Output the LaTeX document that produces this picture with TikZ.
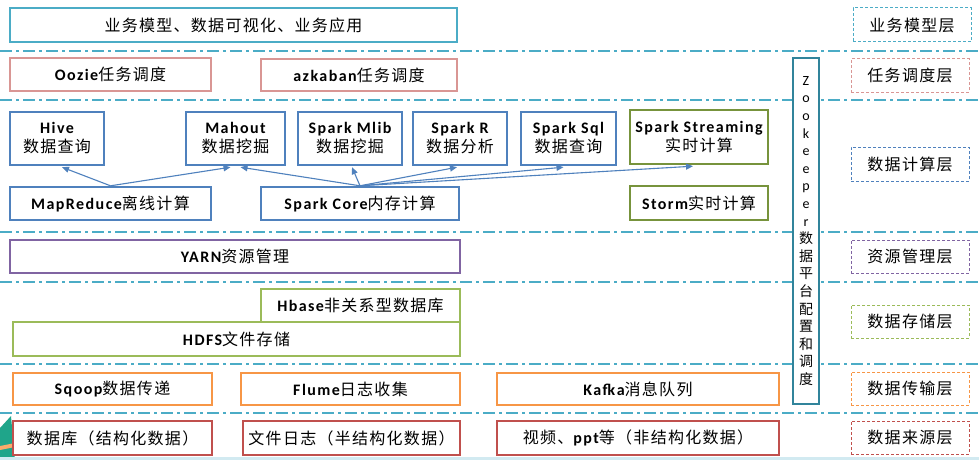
\documentclass[tikz,border=0pt]{standalone}
\usepackage{fontspec}
\setmainfont{Noto Sans CJK SC}[LetterSpace=8]
\newfontfamily\lat{Carlito}[LetterSpace=9]
\newfontfamily\latr{Carlito}
\newcommand\lt[1]{{\lat\bfseries #1}}
\usetikzlibrary{arrows.meta,calc}
\definecolor{cyanc}{HTML}{4BACC6}
\definecolor{pinkc}{HTML}{D99694}
\definecolor{bluec}{HTML}{4F81BD}
\definecolor{olivec}{HTML}{77933C}
\definecolor{greenc}{HTML}{9BBB59}
\definecolor{purplec}{HTML}{8064A2}
\definecolor{orangec}{HTML}{F79646}
\definecolor{redc}{HTML}{C0504D}
\definecolor{zkc}{HTML}{31849B}
\definecolor{tealbg}{HTML}{1FA58A}
\tikzset{
  box/.style={draw, line width=2.4pt, fill=white, inner sep=0pt, align=center,
    font=\fontsize{16}{19}\selectfont},
  layerbox/.style={draw, line width=1pt, dash pattern=on 3pt off 2pt, inner sep=0pt,
    minimum width=118pt, minimum height=33pt, font=\fontsize{16}{18}\selectfont},
  sepline/.style={line width=1.3pt, draw=cyanc, dash pattern=on 12pt off 4pt on 3pt off 4pt},
  arr/.style={draw=bluec, line width=1.1pt, -{Triangle[length=7pt,width=6pt]}}
}
\begin{document}
\begin{tikzpicture}[x=1pt,y=-1pt]
\path[use as bounding box, fill=white] (0,0) rectangle (979,460);
% background decoration bottom-left
\fill[tealbg] (0,428) -- (11,416) -- (15,460) -- (0,460) -- cycle;
\fill[orangec!80] (0,446) -- (15,443) -- (15,447) -- (0,450) -- cycle;
\fill[cyanc!25] (0,457) rectangle (979,460);
% separator lines
\foreach \yy/\nm in {51/a,100/b,232/c,282/d,364/e,413/f}{
  \coordinate (L\nm) at (0,\yy);
  \coordinate (R\nm) at (979,\yy);
  \draw[sepline] (L\nm) -- (R\nm);
}
% business layer
\node[box, draw=cyanc, minimum width=447pt, minimum height=34pt] (top) at (233.5,25) {业务模型、数据可视化、业务应用};
% scheduling
\node[box, draw=pinkc, minimum width=201pt, minimum height=33pt] (oozie) at (110.5,74.5) {\lt{Oozie}任务调度};
\node[box, draw=pinkc, minimum width=196pt, minimum height=32pt] (azk) at (359,75) {\lt{azkaban}任务调度};
% computing
\node[box, draw=bluec, minimum width=94pt, minimum height=53pt] (hive) at (57,138.5) {\lt{Hive}\\数据查询};
\node[box, draw=bluec, minimum width=99pt, minimum height=53pt] (mahout) at (235.5,138.5) {\lt{Mahout}\\数据挖掘};
\node[box, draw=bluec, minimum width=104pt, minimum height=53pt] (mlib) at (350,138.5) {\lt{Spark Mlib}\\数据挖掘};
\node[box, draw=bluec, minimum width=94pt, minimum height=53pt] (sparkr) at (460,138.5) {\lt{Spark R}\\数据分析};
\node[box, draw=bluec, minimum width=95pt, minimum height=53pt] (sql) at (568.5,138.5) {\lt{Spark Sql}\\数据查询};
\node[box, draw=olivec, minimum width=138pt, minimum height=54pt] (stream) at (699,137) {\lt{Spark Streaming}\\实时计算};
\node[box, draw=bluec, minimum width=201pt, minimum height=33pt] (mr) at (110.5,203.5) {\lt{MapReduce}离线计算};
\node[box, draw=bluec, minimum width=198pt, minimum height=33pt] (core) at (360,203.5) {\lt{Spark Core}内存计算};
\node[box, draw=olivec, minimum width=138pt, minimum height=34pt] (storm) at (699,203) {\lt{Storm}实时计算};
% arrows
\draw[arr] (mr.north) -- ($(hive.south)+(5,1)$);
\draw[arr] (mr.north) -- ($(mahout.south)+(-5,1)$);
\draw[arr] (core.north) -- ($(mahout.south)+(5,1)$);
\draw[arr] (core.north) -- ($(mlib.south)+(2,1)$);
\draw[arr] (core.north) -- ($(sparkr.south)+(-3,1)$);
\draw[arr] (core.north) -- ($(sql.south)+(-5,1)$);
\draw[arr] (core.north) -- ($(stream.south)+(-6,1)$);
% resource
\node[box, draw=purplec, minimum width=450pt, minimum height=33pt] (yarn) at (235,256.5) {\lt{YARN}资源管理};
% storage
\node[box, draw=greenc, minimum width=199pt, minimum height=33pt] (hbase) at (360.5,305.5) {\lt{Hbase}非关系型数据库};
\node[box, draw=greenc, minimum width=447pt, minimum height=34pt] (hdfs) at (236.5,339) {\lt{HDFS}文件存储};
% transport
\node[box, draw=orangec, minimum width=199pt, minimum height=32pt] (sqoop) at (112.5,389) {\lt{Sqoop}数据传递};
\node[box, draw=orangec, minimum width=219pt, minimum height=32pt] (flume) at (350.5,389) {\lt{Flume}日志收集};
\node[box, draw=orangec, minimum width=282pt, minimum height=32pt] (kafka) at (638,389) {\lt{Kafka}消息队列};
% sources
\node[box, draw=redc, minimum width=199pt, minimum height=34pt] (db) at (112.5,438) {数据库（结构化数据）};
\node[box, draw=redc, minimum width=217pt, minimum height=34pt] (flog) at (351.5,438) {文件日志（半结构化数据）};
\node[box, draw=redc, minimum width=282pt, minimum height=34pt] (video) at (638,438) {视频、\lt{ppt}等（非结构化数据）};
% zookeeper
\node[draw=zkc, line width=2.4pt, fill=white, inner sep=0pt, minimum width=26pt, minimum height=346pt] (zk) at (806,231) {};
\node[align=center, inner sep=0pt, font=\fontsize{14}{17.6}\selectfont] (zkt) at (zk.center)
 {{\latr Z}\\{\latr o}\\{\latr o}\\{\latr k}\\{\latr e}\\{\latr e}\\{\latr p}\\{\latr e}\\{\latr r}\\数\\据\\平\\台\\配\\置\\和\\调\\度};
% layer labels
\node[layerbox, draw=cyanc, minimum height=34pt] (l1) at (912,25) {业务模型层};
\node[layerbox, draw=pinkc] (l2) at (910,75.5) {任务调度层};
\node[layerbox, draw=bluec, minimum height=34pt] (l3) at (910,164) {数据计算层};
\node[layerbox, draw=purplec] (l4) at (910,256.5) {资源管理层};
\node[layerbox, draw=greenc] (l5) at (910,321.5) {数据存储层};
\node[layerbox, draw=orangec] (l6) at (910,388.5) {数据传输层};
\node[layerbox, draw=redc] (l7) at (910,437.5) {数据来源层};
\end{tikzpicture}
\end{document}
